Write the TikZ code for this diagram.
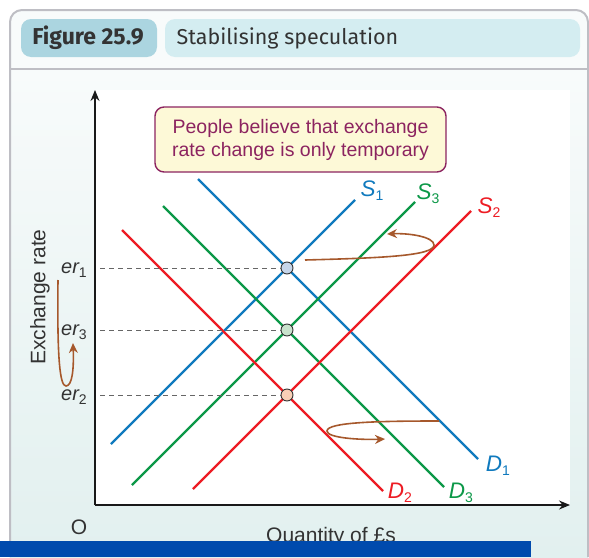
\documentclass[tikz,border=0pt]{standalone}
\usepackage{fontspec}
\setmainfont{Liberation Sans}
\newfontfamily\headfont{Fira Sans}
\usetikzlibrary{positioning,arrows.meta,calc}

\definecolor{sblue}{RGB}{16,122,190}
\definecolor{sgreen}{RGB}{12,152,72}
\definecolor{sred}{RGB}{237,28,36}
\definecolor{arrbrown}{RGB}{166,88,44}
\definecolor{notepurple}{RGB}{140,36,96}
\definecolor{notefill}{RGB}{253,249,215}
\definecolor{paneltop}{RGB}{248,251,251}
\definecolor{panelbot}{RGB}{226,240,239}
\definecolor{headdark}{RGB}{171,213,224}
\definecolor{headlight}{RGB}{212,237,241}
\definecolor{framegrey}{RGB}{190,190,196}
\definecolor{barblue}{RGB}{0,74,173}
\definecolor{ptblue}{RGB}{197,213,234}
\definecolor{ptgreen}{RGB}{200,226,204}
\definecolor{ptred}{RGB}{250,207,182}
\definecolor{inkgrey}{RGB}{51,51,51}

% letter with an upright index below the line
\newcommand{\sublbl}[3]{#1\raisebox{-0.35ex}{\upshape\fontsize{#3}{#3}\selectfont #2}}

\begin{document}
\begin{tikzpicture}[
  x=1pt, y=-1pt,
  curve/.style={line width=2.4pt},
  eqpt/.style={circle, draw=inkgrey, line width=0.9pt, inner sep=0pt, minimum size=12pt},
  guide/.style={draw=black!60, line width=0.9pt, dash pattern=on 5pt off 4pt},
  move/.style={-{Stealth[length=10pt,width=9pt]}, draw=arrbrown, line width=1.6pt},
  axis/.style={-{Stealth[length=11pt,width=9pt]}, draw=black!90, line width=1.3pt},
  curvelbl/.style={font=\fontsize{22.5}{22.5}\selectfont\itshape},
  ratelbl/.style={font=\fontsize{20}{20}\selectfont\itshape, text=inkgrey},
  pill/.style={rounded corners=10pt},
  headtxt/.style={font=\headfont\fontsize{21.5}{23}\selectfont, text=inkgrey},
  plain/.style={font=\fontsize{21}{21}\selectfont, text=inkgrey},
]
\useasboundingbox (0,0) rectangle (589,557);

% ---- frame and header ----
\fill[paneltop, rounded corners=12pt] (10,557) -- (10,10) -- (588,10) -- (588,557) -- cycle;
\shade[top color=paneltop, bottom color=panelbot] (10,69) rectangle (588,557);
\fill[white] (95,90) rectangle (570,505);
\draw[framegrey, line width=2pt, rounded corners=12pt] (10,557) -- (10,10) -- (588,10) -- (588,557);
\draw[framegrey, line width=2pt] (10,69) -- (588,69);
\fill[headdark, pill] (21,19) rectangle (157,57);
\fill[headlight, pill] (165,19) rectangle (580,57);
\node[headtxt, font=\headfont\bfseries\fontsize{23}{23}\selectfont] (fig) at (88,38) {Figure 25.9};
\node[headtxt, anchor=west] (title) at (173,38) {Stabilising speculation};

% ---- axes ----
\coordinate (orig) at (95,505);
\coordinate (ytop) at (95,90);
\coordinate (xend) at (570,505);
\draw[axis] (orig) -- (ytop);
\draw[axis] (orig) -- (xend);
\node[plain] (o) at (79,527) {O};
\node[plain, anchor=base] (qty) at (331,542) {Quantity of £s};
\node[plain, rotate=90] (ylab) at (40,297) {Exchange rate};

% ---- equilibrium points ----
\coordinate (e1) at (287,268);
\coordinate (e3) at (287,330);
\coordinate (e2) at (287,395);

% ---- curves (all at 45 degrees) ----
\draw[curve, sblue]  ($(e1)+(-176,176)$) -- ($(e1)+(68,-68)$);
\draw[curve, sblue]  ($(e1)+(-89,-89)$) -- ($(e1)+(191,191)$);
\draw[curve, sgreen] ($(e3)+(-155,155)$) -- ($(e3)+(128,-128)$);
\draw[curve, sgreen] ($(e3)+(-124,-124)$) -- ($(e3)+(157,157)$);
\draw[curve, sred]   ($(e2)+(-94,94)$) -- ($(e2)+(184,-184)$);
\draw[curve, sred]   ($(e2)+(-165,-165)$) -- ($(e2)+(96,96)$);

\node[curvelbl, text=sblue]  (s1) at (372,191) {\sublbl{S}{1}{14}};
\node[curvelbl, text=sgreen] (s3) at (428,194) {\sublbl{S}{3}{14}};
\node[curvelbl, text=sred]   (s2) at (489,208) {\sublbl{S}{2}{14}};
\node[curvelbl, text=sblue]  (d1) at (498,466) {\sublbl{D}{1}{14}};
\node[curvelbl, text=sgreen] (d3) at (461,493) {\sublbl{D}{3}{14}};
\node[curvelbl, text=sred]   (d2) at (400,493) {\sublbl{D}{2}{14}};

% ---- rates on the vertical axis ----
\node[ratelbl] (er1) at (74,270) {\sublbl{er}{1}{14}};
\node[ratelbl] (er3) at (74,332) {\sublbl{er}{3}{14}};
\node[ratelbl] (er2) at (74,397) {\sublbl{er}{2}{14}};
\coordinate (g1) at (100,268);
\coordinate (g3) at (100,330);
\coordinate (g2) at (100,395);

\node[eqpt, fill=ptblue]  (p1) at (e1) {};
\node[eqpt, fill=ptgreen] (p3) at (e3) {};
\node[eqpt, fill=ptred]   (p2) at (e2) {};
\draw[guide] (g1) -- (p1.west);
\draw[guide] (g3) -- (p3.west);
\draw[guide] (g2) -- (p2.west);

% ---- speculative shifts ----
\coordinate (lstart) at (58,280);
\coordinate (lend) at (73,343);
\draw[move] (lstart) .. controls (57,360) and (60,386) .. (66,386)
                     .. controls (72,386) and (74,370) .. (lend);
\coordinate (sstart) at (305,260);
\coordinate (send) at (387,234);
\draw[move] (sstart) .. controls (380,258) and (434,256) .. (434,245)
                     .. controls (434,237) and (410,233) .. (send);
\coordinate (dstart) at (439,421);
\coordinate (dend) at (385,439);
\draw[move] (dstart) .. controls (380,421) and (327,422) .. (327,431)
                     .. controls (327,438) and (360,440) .. (dend);

% ---- note ----
\node[draw=notepurple, fill=notefill, line width=1.4pt, rounded corners=9pt,
      minimum width=291pt, minimum height=65pt, align=center, text=notepurple,
      font=\fontsize{19.5}{23}\selectfont] (note) at (300.5,139.5)
  {People believe that exchange\\rate change is only temporary};

% ---- bottom bar ----
\fill[barblue] (0,541) rectangle (531,557);
\end{tikzpicture}
\end{document}
